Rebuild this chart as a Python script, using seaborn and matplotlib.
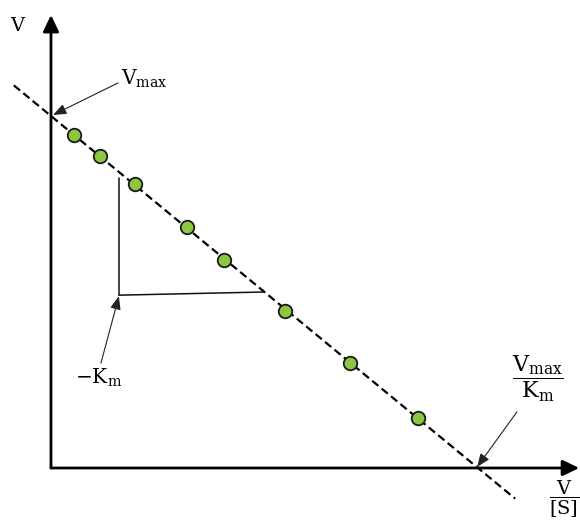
import numpy as np
import pandas as pd
import matplotlib
matplotlib.use("Agg")
import matplotlib.pyplot as plt
import seaborn as sns

# Eadie-Hofstee plot: v against v/[S]
v_over_s = [0.54, 1.15, 1.97, 3.19, 4.05, 5.48, 7.00, 8.59]
v = [9.45, 8.85, 8.07, 6.85, 5.92, 4.47, 2.99, 1.42]

vmax = 10.0            # y-intercept
vmax_over_km = 10.0    # x-intercept
fit_x_range = [-0.87, 10.87]

label_y = "V"
label_vmax = r"$\mathrm{V_{max}}$"
label_neg_km = r"$\mathrm{-K_m}$"
label_x_icpt = r"$\dfrac{\mathrm{V_{max}}}{\mathrm{K_m}}$"
label_x = r"$\dfrac{\mathrm{V}}{\mathrm{[S]}}$"

sns.set_theme(style="white")
plt.rcParams["font.family"] = ["DejaVu Serif"]
plt.rcParams["mathtext.fontset"] = "dejavuserif"
plt.rcParams["text.color"] = "black"

fig = plt.figure(figsize=(5.8, 5.23), dpi=100)
ax = fig.add_axes([0, 0, 1, 1])
ax.set_xlim(-1.194, 12.389)
ax.set_ylim(-1.5625, 13.295)
ax.axis("off")

# fitted line: v = Vmax - Km * (v/[S])
fit = pd.DataFrame({"x": fit_x_range})
fit["y"] = vmax * (1 - fit["x"] / vmax_over_km)
sns.lineplot(data=fit, x="x", y="y", ax=ax, color="black", lw=1.6,
             linestyle=(0, (3.6, 1.9)), zorder=2)

# measured points
pts = pd.DataFrame({"x": v_over_s, "y": v})
sns.scatterplot(data=pts, x="x", y="y", ax=ax, s=95, color="#8DC63F",
                edgecolor="#1a1a1a", linewidth=1.3, zorder=3)

# axes with arrow heads
axis_arrow = dict(arrowstyle="-|>,head_length=1.0,head_width=0.48",
                  color="black", lw=2.0, shrinkA=0, shrinkB=0,
                  mutation_scale=10)
ax.annotate("", xy=(0, 12.87), xytext=(0, 0), arrowprops=axis_arrow)
ax.annotate("", xy=(12.37, 0), xytext=(0, 0), arrowprops=axis_arrow)

# slope triangle
corner_x, corner_y = 1.59, 4.91
ax.plot([corner_x, corner_x], [corner_y, 8.24], color="#111111", lw=1.1)
ax.plot([corner_x, 4.99], [corner_y, 5.0], color="#111111", lw=1.1)

# labels and pointers
pointer = dict(arrowstyle="-|>,head_length=1.0,head_width=0.4",
               color="#222222", lw=0.8, shrinkA=0, shrinkB=0,
               mutation_scale=8)

ax.text(-0.80, 12.56, label_y, fontsize=14, ha="center", va="center")
ax.text(12.03, -0.88, label_x, fontsize=14, ha="center", va="center")

ax.annotate("", xy=(0.05, 10.03), xytext=(1.57, 10.94), arrowprops=pointer)
ax.text(1.64, 11.05, label_vmax, fontsize=14.5, ha="left", va="center")

ax.annotate("", xy=(1.59, 4.88), xytext=(1.17, 2.98), arrowprops=pointer)
ax.text(1.12, 2.56, label_neg_km, fontsize=14.5, ha="center", va="center")

ax.annotate("", xy=(9.98, 0.03), xytext=(10.91, 1.59), arrowprops=pointer)
ax.text(11.41, 2.52, label_x_icpt, fontsize=16, ha="center", va="center")

fig.savefig("out.png", dpi=100)
